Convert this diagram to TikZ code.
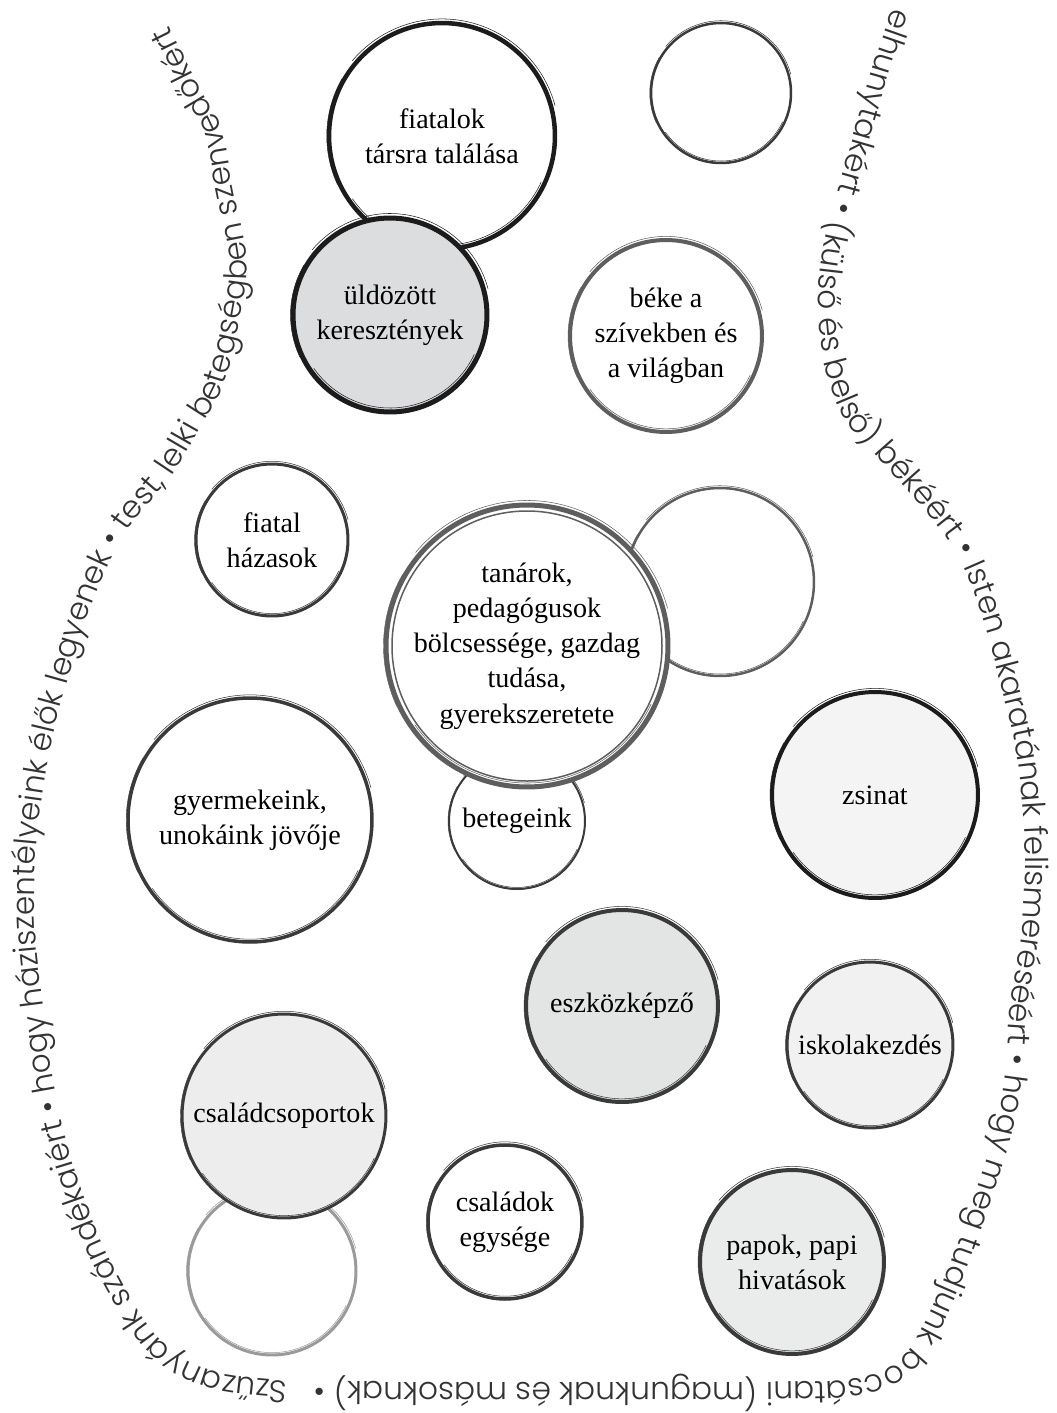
\documentclass[tikz,border=0pt]{standalone}
\usepackage{fontspec}
\setmainfont{Liberation Serif}
\newfontfamily\curvefont{Poppins Light}
\usetikzlibrary{decorations.text}

\definecolor{inkdark}{HTML}{1C1C1C}
\definecolor{inkmid}{HTML}{3A3A3A}
\definecolor{inkgray}{HTML}{5E5E5E}
\definecolor{inklight}{HTML}{9A9A9A}
\definecolor{fillA}{HTML}{DCDDDF}
\definecolor{fillB}{HTML}{F4F4F4}
\definecolor{fillC}{HTML}{E3E4E4}
\definecolor{fillD}{HTML}{F1F1F1}
\definecolor{fillE}{HTML}{EDEDED}
\definecolor{fillF}{HTML}{EAEBEB}
\definecolor{prayertext}{HTML}{333333}

% rough brush strokes round a bubble: node, radius (px), colour, width (px)
\newcommand{\brushring}[4]{%
  \draw[#3, line width=#4*0.12mm] (#1.center) ++(200:#2) arc[start angle=200, end angle=320, radius=#2];
  \draw[#3, line width=0.3pt] (#1.center) ++(15:{#2+#4*0.9}) arc[start angle=15, end angle=140, radius={#2+#4*0.9}];
  \draw[#3, line width=0.3pt] (#1.center) ++(215:{#2-#4*0.8}) arc[start angle=215, end angle=335, radius={#2-#4*0.8}];
  \draw[#3, line width=0.25pt] (#1.center) ++(150:{#2+#4*0.5}) arc[start angle=150, end angle=205, radius={#2+#4*0.5}];
}

\begin{document}
\begin{tikzpicture}[x=0.02cm, y=0.02cm,
    bubble/.style={circle, inner sep=0pt, align=center, fill=white, font=\fontsize{16}{20}\selectfont},
    rad/.style={minimum size=#1*0.4mm},
    brush/.style={line width=#1*0.2mm},
    prayer/.style={decoration={text along path, text align=left,
        text={|\curvefont\fontsize{#1}{#1}\selectfont\color{prayertext}|\prayerline}}, decorate}]
    \useasboundingbox (0,0) rectangle (1056,-1413);

    % intentions round the outline: right side and bottom
    \def\prayerline{elhunytakért • (külső és belső) békéért • Isten akaratának felismeréséért • hogy meg tudjunk bocsátani (magunknak és másoknak) • }
    \path[prayer=17.8]
        plot[smooth, tension=0.55] coordinates {
            (893,-8) (875,-60) (858,-120) (838,-190) (823,-250) (818,-310) (826,-370) (845,-420)
            (880,-460) (920,-505) (958,-555) (980,-610) (1000,-680) (1018,-760) (1025,-850)
            (1022,-930) (1010,-1010) (1005,-1080) (993,-1140) (970,-1210) (940,-1290) (905,-1355)
            (860,-1378) (780,-1382) (600,-1382) (400,-1382) (300,-1381) (240,-1377)};
    % left side
    \def\prayerline{Szűzanyánk szándékaiért • hogy háziszentélyeink élők legyenek • test, lelki betegségben szenvedőkért}
    \path[prayer=17.7]
        plot[smooth, tension=0.55] coordinates {
            (288,-1381) (215,-1372) (160,-1340) (110,-1260) (75,-1170) (55,-1090) (45,-1020)
            (35,-930) (36,-850) (48,-760) (65,-690) (90,-610) (124,-535) (170,-478) (203,-423)
            (224,-385) (240,-320) (247,-270) (243,-235) (233,-190) (222,-130) (200,-88)
            (165,-18) (155,5)};

    % bubbles
    \node[bubble, rad=113, draw=inkdark, brush=4.5] (tarsra) at (442,-136) {fiatalok\\társra találása};
    \brushring{tarsra}{113}{inkdark}{4.5}
    \node[bubble, rad=97, draw=inkdark, brush=5, fill=fillA] (uldozott) at (390,-315) {üldözött\\keresztények};
    \brushring{uldozott}{97}{inkdark}{5}
    \node[bubble, rad=70, draw=inkmid, brush=2.5] (emptytop) at (721,-93) {};
    \brushring{emptytop}{70}{inkmid}{2.5}
    \node[bubble, rad=96, draw=inkgray, brush=4] (beke) at (666,-336) {béke a\\szívekben és\\a világban};
    \brushring{beke}{96}{inkgray}{4}
    \node[bubble, rad=76, draw=inkmid, brush=3] (hazasok) at (272,-540) {fiatal\\házasok};
    \brushring{hazasok}{76}{inkmid}{3}
    \node[bubble, rad=94, draw=inkgray, brush=2.5] (emptyright) at (720,-582) {};
    \brushring{emptyright}{94}{inkgray}{2.5}
    \node[bubble, rad=68, draw=inkmid, brush=2] (betegeink) at (517,-821) {betegeink};
    \brushring{betegeink}{68}{inkmid}{2}
    \node[bubble, rad=141, draw=inkgray, brush=5] (tanarok) at (527,-646) {tanárok,\\pedagógusok\\bölcsessége, gazdag\\tudása,\\gyerekszeretete};
    \draw[inkgray, brush=1.5] (tanarok.center) circle[radius=135];
    \brushring{tanarok}{141}{inkgray}{5}
    \node[bubble, rad=122, draw=inkmid, brush=3.5] (gyermekeink) at (250,-820) {gyermekeink,\\unokáink jövője};
    \brushring{gyermekeink}{122}{inkmid}{3.5}
    \node[bubble, rad=103, draw=inkdark, brush=4, fill=fillB] (zsinat) at (875,-795) {zsinat};
    \brushring{zsinat}{103}{inkdark}{4}
    \node[bubble, rad=96, draw=inkmid, brush=4, fill=fillC] (eszkoz) at (622,-1006) {eszközképző};
    \brushring{eszkoz}{96}{inkmid}{4}
    \node[bubble, rad=83, draw=inkmid, brush=3, fill=fillD] (iskola) at (870,-1045) {iskolakezdés};
    \brushring{iskola}{83}{inkmid}{3}
    \node[bubble, rad=84, draw=inklight, brush=3] (emptybottom) at (272,-1271) {};
    \brushring{emptybottom}{84}{inklight}{3}
    \node[bubble, rad=102, draw=inkmid, brush=3, fill=fillE] (csoportok) at (284,-1116) {családcsoportok};
    \brushring{csoportok}{102}{inkmid}{3}
    \node[bubble, rad=77, draw=inkmid, brush=3.5] (egysege) at (505,-1222) {családok\\egysége};
    \brushring{egysege}{77}{inkmid}{3.5}
    \node[bubble, rad=92, draw=inkmid, brush=4, fill=fillF] (papok) at (792,-1262) {papok, papi\\hivatások};
    \brushring{papok}{92}{inkmid}{4}
\end{tikzpicture}
\end{document}
